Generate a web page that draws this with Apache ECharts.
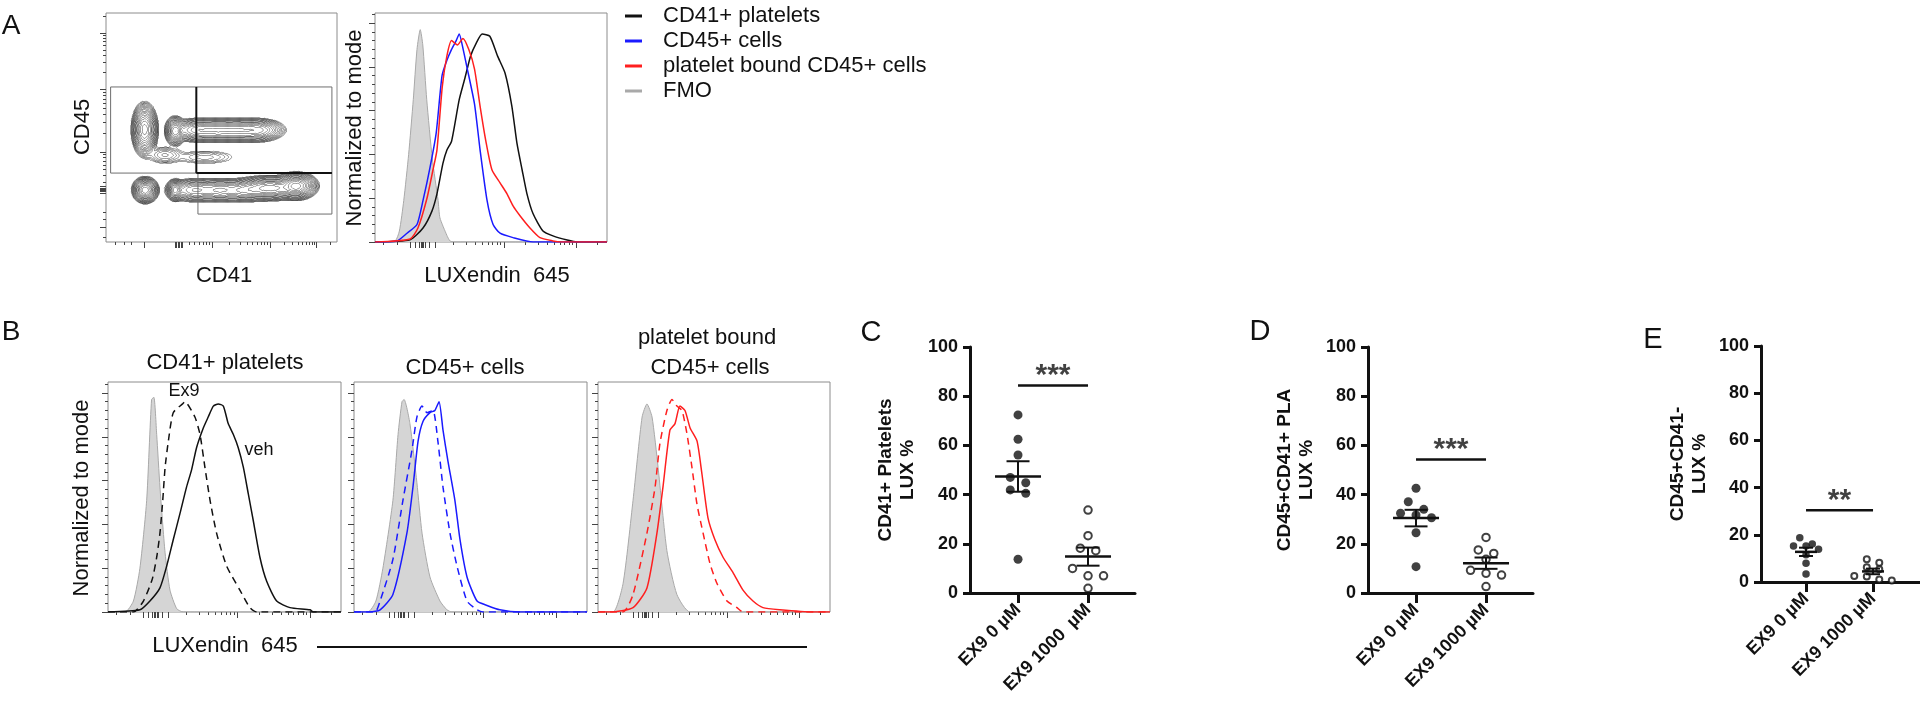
<!DOCTYPE html>
<html><head><meta charset="utf-8">
<script src="https://cdn.jsdelivr.net/npm/echarts@6/dist/echarts.min.js"></script>
<style>html,body{margin:0;padding:0;background:#fff}#c{width:1920px;height:704px}</style>
</head><body><div id="c"></div>
<script>
// ---------------- DATA ----------------
// Panel A contour plot: cell populations [CD41 centre, CD45 centre, spread CD41, spread CD45, relative density] (axis units 0-1000)
const contourPops = [
  [167, 491, 17, 35, 0.9], [300, 485, 14, 20, 0.5],
  [399, 489, 43, 17, 0.22], [486, 489, 43, 17, 0.22], [573, 489, 43, 17, 0.22], [656, 489, 40, 17, 0.2],
  [255, 380, 35, 17, 0.015], [428, 371, 65, 15, 0.008],
  [170, 227, 17, 17, 1.0], [300, 227, 12, 15, 0.45],
  [385, 227, 43, 17, 0.18], [494, 227, 43, 17, 0.18], [603, 227, 43, 17, 0.18],
  [711, 236, 52, 17, 0.45], [824, 245, 28, 18, 0.9]
];
// gates [x0, y0, x1, y1]
const gatesA = [[20, 301, 978, 677], [398, 122, 978, 301]];
const quadGateA = [[391, 301, 391, 677], [391, 301, 978, 301]];

// Panel A histograms [LUXendin channel, % of mode]
const histA_CD41 = [[0,0],[151,1],[207,6.4],[245,14],[267,22],[293,36],[310,42],[330,46],[363,65],[388,75],[412,85],[437,91],[462,95],[495,94],[528,85],[561,77],[590,62],[612,45],[634,33],[655,22],[681,13],[724,5],[767,2.8],[828,0.9],[871,0],[1000,0]];
const histA_CD45 = [[0,0],[95,0.5],[138,4],[181,8],[207,19],[237,34],[264,50],[289,76],[310,83],[330,88],[350,92],[363,95],[380,88],[396,80],[429,63],[453,42],[483,19],[509,8],[539,4],[595,2],[681,0],[1000,0]];
const histA_PLA = [[0,0],[151,1.4],[185,6.4],[224,20],[250,33],[267,42],[290,71],[310,85],[330,92],[355,90],[379,93],[404,88],[429,79],[453,62],[478,46],[504,33],[539,27],[569,22],[595,16.5],[625,12],[668,6.4],[711,2],[767,0.5],[800,0],[1000,0]];
const histA_FMO = [[0,0],[86,0.5],[105,5],[124,19],[145,40],[165,65],[181,88],[195,97],[206,90],[223,65],[247,38],[272,19],[280,11],[310,3],[323,0.5],[340,0],[1000,0]];

// Panel B histograms
const histB1_FMO = [[0,0],[73,0],[109,5],[137,20],[166,51],[187,97],[197,98],[209,81],[223,57],[245,27],[266,10],[295,1.5],[323,0],[1000,0]];
const histB1_Ex9 = [[0,0],[109,0],[152,5],[190,15],[209,25],[223,36],[235,51],[245,66],[259,78],[280,91],[320,95],[330,96],[373,89],[395,81],[416,66],[438,51],[466,36],[509,21],[566,10],[609,2],[638,0],[1000,0]];
const histB1_veh = [[0,0],[137,1],[180,5],[223,11],[252,21],[280,33],[309,45],[337,57],[359,65],[380,75],[409,84],[430,89],[452,94],[473,95],[495,94],[516,86],[538,81],[559,75],[581,66],[602,54],[623,42],[652,25],[681,14],[724,5],[781,2],[867,1],[881,0],[1000,0]];
const histB2_FMO = [[0,0],[60,0],[94,5],[124,20],[167,51],[189,81],[206,96],[215,97],[240,86],[270,59],[292,36],[326,16],[369,5],[399,1],[420,0],[1000,0]];
const histB2_Ex9 = [[0,0],[90,0],[112,5],[167,24],[210,51],[249,74],[270,89],[292,94],[313,91],[339,92],[360,78],[382,57],[412,36],[442,21],[485,5],[528,1],[553,0],[1000,0]];
const histB2_veh = [[0,0],[69,0],[112,1],[167,8],[227,36],[253,57],[275,78],[296,87],[326,91],[347,92],[365,96],[382,83],[403,69],[433,51],[455,33],[485,16],[528,5],[571,3],[626,1],[712,0],[1000,0]];
const histB3_FMO = [[0,0],[65,0],[108,13],[151,51],[190,89],[211,95],[233,89],[259,66],[297,28],[340,8],[397,0],[1000,0]];
const histB3_Ex9 = [[0,0],[108,0],[151,8],[211,36],[246,57],[267,77],[297,92],[319,97],[340,94],[362,92],[384,81],[405,66],[427,49],[453,36],[483,22],[513,13],[556,5],[599,2],[625,0],[1000,0]];
const histB3_veh = [[0,0],[52,0],[151,2],[211,11],[254,36],[280,57],[310,83],[332,86],[353,94],[375,92],[397,84],[427,78],[448,63],[474,43],[504,33],[539,25],[582,18],[625,10],[668,5],[711,2],[784,1],[927,0],[1000,0]];

// Flow axis tick values
const histMajorX = [555, 866];
const histZeroX = [150, 172, 190, 198, 204, 210, 216, 232, 258];
const histLowX = [34, 95];
const histDecadesX = [[244, 555], [555, 866], [866, 1177]];
const histMajorY = [0, 20, 40, 60, 80, 100];
const cMajorX = [167, 459, 711, 911];
const cZeroX = [300, 306, 312, 318, 324, 330];
const cLowX = [40, 80, 110];
const cDecadesX = [[207, 459], [459, 711], [711, 911], [911, 1111]];
const cMajorY = [66, 393, 668, 913];
const cZeroY = [212, 220, 225, 230, 236, 244];
const cLowY = [20, 100, 130];
const cDecadesY = [[141, 393], [393, 668], [668, 913], [913, 1158]];

// Panels C-E (% LUX positive)
const catsC = ['EX9 0 µM', 'EX9 1000  µM'];
const catsD = ['EX9 0 µM', 'EX9 1000 µM'];
const catsE = ['EX9 0 µM', 'EX9 1000 µM'];
const C_ex9_0 = [72.4, 62.5, 56.1, 47.0, 44.8, 41.9, 40.5, 13.7];
const C_ex9_1000 = [33.7, 23.3, 18.2, 17.2, 10.0, 7.0, 7.0, 1.9];
const D_ex9_0 = [42.6, 37.1, 34.0, 32.4, 31.7, 30.6, 24.5, 10.7];
const D_ex9_1000 = [22.6, 17.5, 16.1, 13.7, 9.2, 8.0, 7.3, 2.6];
const E_ex9_0 = [18.8, 16.1, 15.3, 15.3, 13.9, 11.5, 7.9, 3.4];
const E_ex9_1000 = [9.6, 8.2, 6.2, 5.4, 2.5, 2.3, 1.1, 0.6];
const sigC = ['***', 84.3], sigD = ['***', 54.3], sigE = ['**', 30.4];

// ---------------- BUILD ----------------
const FONT = '"Liberation Sans", Arial, Helvetica, sans-serif';
const grid = [], xAxis = [], yAxis = [], series = [];

function logMinors(decades, lo) {
  const out = [];
  decades.forEach(([a, b]) => { for (let k = 2; k < 10; k++) { const v = a + (b - a) * Math.log10(k); if (v > lo && v < 1000) out.push(v); } });
  return out;
}
function range(a, b, s) { const o = []; for (let v = a; v <= b + 1e-9; v += s) o.push(+v.toFixed(3)); return o; }

function flowGrid(rect, ymax, xMaj, xMin, yMaj, yMin) {
  const g = grid.length;
  grid.push(Object.assign({ show: true, borderColor: '#8c8c8c', borderWidth: 1, backgroundColor: 'transparent' }, rect));
  const tick = (vals, len) => ({ show: true, customValues: vals, length: len, lineStyle: { color: '#444', width: 1 } });
  const base = { gridIndex: g, type: 'value', axisLine: { show: false, onZero: false }, splitLine: { show: false }, axisLabel: { show: false } };
  const xi = xAxis.length;
  xAxis.push(Object.assign({}, base, { min: 0, max: 1000, position: 'bottom', axisTick: tick(xMaj, 6) }));
  xAxis.push(Object.assign({}, base, { min: 0, max: 1000, position: 'bottom', axisTick: tick(xMin, 3) }));
  yAxis.push(Object.assign({}, base, { min: 0, max: ymax, position: 'left', axisTick: tick(yMaj, 6) }));
  yAxis.push(Object.assign({}, base, { min: 0, max: ymax, position: 'left', axisTick: tick(yMin, 3) }));
  return xi;
}

// Contour grid (0)
const cAx = flowGrid({ left: 106, top: 13, width: 231, height: 229 }, 1000,
  cMajorX.concat(cZeroX), logMinors(cDecadesX, 340).concat(cLowX),
  cMajorY.concat(cZeroY), logMinors(cDecadesY, 260).concat(cLowY));
// Histogram grids
const histMinX = logMinors(histDecadesX, 262).concat(histLowX);
const histMinY = range(4, 104, 4).filter(v => v % 20 !== 0);
const aAx = flowGrid({ left: 375, top: 13, width: 232, height: 229 }, 104.6, histMajorX.concat(histZeroX), histMinX, histMajorY, histMinY);
const b1Ax = flowGrid({ left: 108, top: 382, width: 233, height: 230 }, 105, histMajorX.concat(histZeroX), histMinX, histMajorY, histMinY);
const b2Ax = flowGrid({ left: 354, top: 382, width: 233, height: 230 }, 105, histMajorX.concat(histZeroX), histMinX, histMajorY, histMinY);
const b3Ax = flowGrid({ left: 598, top: 382, width: 232, height: 230 }, 105, histMajorX.concat(histZeroX), histMinX, histMajorY, histMinY);

// ---- contour computation (marching squares on density of populations)
(function () {
  const step = 4, n = Math.round(1000 / step) + 1;
  const f = new Float64Array(n * n);
  let fmax = 0;
  for (let j = 0; j < n; j++) for (let i = 0; i < n; i++) {
    const x = i * step, y = j * step; let s = 0;
    for (const p of contourPops) { const dx = (x - p[0]) / p[2], dy = (y - p[1]) / p[3]; s += p[4] * Math.exp(-0.5 * (dx * dx + dy * dy)); }
    f[j * n + i] = s; if (s > fmax) fmax = s;
  }
  const segs = [];
  for (let k = 0.3; k <= 6.6; k += 0.36) {
    const L = fmax * Math.exp(-k);
    for (let j = 0; j < n - 1; j++) for (let i = 0; i < n - 1; i++) {
      const a = f[j * n + i], b = f[j * n + i + 1], c = f[(j + 1) * n + i + 1], d = f[(j + 1) * n + i];
      const idx = (a > L ? 1 : 0) | (b > L ? 2 : 0) | (c > L ? 4 : 0) | (d > L ? 8 : 0);
      if (idx === 0 || idx === 15) continue;
      const x = i * step, y = j * step;
      const e0 = () => [x + step * (L - a) / (b - a), y];
      const e1 = () => [x + step, y + step * (L - b) / (c - b)];
      const e2 = () => [x + step * (L - d) / (c - d), y + step];
      const e3 = () => [x, y + step * (L - a) / (d - a)];
      const add = (p, q) => segs.push({ coords: [p, q] });
      switch (idx) {
        case 1: case 14: add(e3(), e0()); break;
        case 2: case 13: add(e0(), e1()); break;
        case 3: case 12: add(e3(), e1()); break;
        case 4: case 11: add(e1(), e2()); break;
        case 6: case 9: add(e0(), e2()); break;
        case 7: case 8: add(e3(), e2()); break;
        case 5: add(e3(), e0()); add(e1(), e2()); break;
        case 10: add(e0(), e1()); add(e2(), e3()); break;
      }
    }
  }
  series.push({ type: 'lines', coordinateSystem: 'cartesian2d', xAxisIndex: cAx, yAxisIndex: cAx, data: segs, silent: true,
    lineStyle: { color: '#333', width: 0.7, opacity: 0.75 }, z: 2, animation: false });
})();

series.push({ type: 'custom', xAxisIndex: cAx, yAxisIndex: cAx, data: gatesA, silent: true, z: 5,
  encode: { x: [0, 2], y: [1, 3] },
  renderItem: (p, api) => { const a = api.coord([api.value(0), api.value(1)]), b = api.coord([api.value(2), api.value(3)]);
    return { type: 'rect', shape: { x: Math.min(a[0], b[0]), y: Math.min(a[1], b[1]), width: Math.abs(b[0] - a[0]), height: Math.abs(b[1] - a[1]) }, style: { fill: 'none', stroke: '#6e6e6e', lineWidth: 1 } }; } });
series.push({ type: 'custom', xAxisIndex: cAx, yAxisIndex: cAx, data: quadGateA, silent: true, z: 6,
  encode: { x: [0, 2], y: [1, 3] },
  renderItem: (p, api) => { const a = api.coord([api.value(0), api.value(1)]), b = api.coord([api.value(2), api.value(3)]);
    return { type: 'line', shape: { x1: a[0], y1: a[1], x2: b[0], y2: b[1] }, style: { stroke: '#111', lineWidth: 2 } }; } });

// ---- histograms
function hist(ax, name, data, color, opts = {}) {
  const s = { type: 'line', name, xAxisIndex: ax, yAxisIndex: ax, data, showSymbol: false, symbol: 'none', smooth: 0.2, silent: true,
    lineStyle: { color, width: opts.width || 1.5, type: opts.dash ? [7, 5] : 'solid' }, itemStyle: { color }, z: opts.z || 3 };
  if (opts.fill) s.areaStyle = { color: opts.fill, opacity: 1 };
  series.push(s);
}
const GRAYL = '#a9a9a9', GRAYF = '#d5d5d5', BLUE = '#1a1aff', RED = '#ff1f1f', BLK = '#111111';
hist(aAx, 'FMO', histA_FMO, GRAYL, { fill: GRAYF, width: 1, z: 2 });
hist(aAx, 'CD41+ platelets', histA_CD41, BLK);
hist(aAx, 'CD45+ cells', histA_CD45, BLUE);
hist(aAx, 'platelet bound CD45+ cells', histA_PLA, RED);
hist(b1Ax, 'B1 FMO', histB1_FMO, GRAYL, { fill: GRAYF, width: 1, z: 2 });
hist(b1Ax, 'B1 Ex9', histB1_Ex9, BLK, { dash: true });
hist(b1Ax, 'B1 veh', histB1_veh, BLK);
hist(b2Ax, 'B2 FMO', histB2_FMO, GRAYL, { fill: GRAYF, width: 1, z: 2 });
hist(b2Ax, 'B2 Ex9', histB2_Ex9, BLUE, { dash: true });
hist(b2Ax, 'B2 veh', histB2_veh, BLUE);
hist(b3Ax, 'B3 FMO', histB3_FMO, GRAYL, { fill: GRAYF, width: 1, z: 2 });
hist(b3Ax, 'B3 Ex9', histB3_Ex9, RED, { dash: true });
hist(b3Ax, 'B3 veh', histB3_veh, RED);

// ---- dot plots
function swarm(vals, pxPerUnit, diam, spacing) {
  const idx = vals.map((v, i) => i).sort((a, b) => vals[b] - vals[a]);
  const off = new Array(vals.length).fill(0); let row = [];
  const flush = () => { row.forEach((k, j) => { off[k] = (j - (row.length - 1) / 2) * spacing; }); row = []; };
  idx.forEach(k => { if (row.length && (vals[row[0]] - vals[k]) * pxPerUnit >= diam) flush(); row.push(k); });
  flush(); return off;
}
function meanSem(v) { const m = v.reduce((a, b) => a + b, 0) / v.length; const sd = Math.sqrt(v.reduce((a, b) => a + (b - m) * (b - m), 0) / (v.length - 1)); return [m, sd / Math.sqrt(v.length)]; }

function dotPanel(rect, xr, cats, ctrl, trt, sig, yName, nameGap, o) {
  const g = grid.length; grid.push(rect);
  const ai = xAxis.length;
  const lab = { fontFamily: FONT, fontSize: 18, fontWeight: 'bold', color: '#111' };
  xAxis.push({ gridIndex: g, type: 'value', min: xr[0], max: xr[1], splitLine: { show: false },
    axisLine: { show: true, onZero: false, lineStyle: { color: '#111', width: 3 } },
    axisTick: { show: true, customValues: [0, 1], length: 10, lineStyle: { color: '#111', width: 3 } },
    axisLabel: Object.assign({ show: true, customValues: [0, 1], formatter: v => cats[Math.round(v)], rotate: 45, margin: 14 }, lab) });
  yAxis.push({ gridIndex: g, type: 'value', min: 0, max: 100, interval: 20, splitLine: { show: false },
    axisLine: { show: true, onZero: false, lineStyle: { color: '#111', width: 3 } },
    axisTick: { show: true, length: 7, lineStyle: { color: '#111', width: 3 } },
    axisLabel: Object.assign({ margin: 12 }, lab),
    name: yName, nameLocation: 'middle', nameGap, nameTextStyle: { fontFamily: FONT, fontSize: o.nameSize, fontWeight: 'bold', color: '#111', lineHeight: o.nameSize + 3 } });
  const offC = swarm(ctrl, o.ppu, o.diam, o.sp), offT = swarm(trt, o.ppu, o.diam, o.sp);
  series.push({ type: 'scatter', xAxisIndex: ai, yAxisIndex: ai, symbol: 'circle', symbolSize: o.diam, silent: true, z: 3,
    itemStyle: { color: '#111' }, data: ctrl.map((v, i) => ({ value: [0, v], symbolOffset: [offC[i], 0] })) });
  series.push({ type: 'scatter', xAxisIndex: ai, yAxisIndex: ai, symbol: 'circle', symbolSize: o.diam - 1.5, silent: true, z: 3,
    itemStyle: { color: '#fff', borderColor: '#111', borderWidth: 2 }, data: trt.map((v, i) => ({ value: [1, v], symbolOffset: [offT[i], 0] })) });
  const ms = [[0].concat(meanSem(ctrl)), [1].concat(meanSem(trt))];
  series.push({ type: 'custom', xAxisIndex: ai, yAxisIndex: ai, data: ms, silent: true, z: 4, encode: { x: 0, y: 1 },
    renderItem: (p, api) => {
      const gx = api.value(0), m = api.value(1), s = api.value(2);
      const pm = api.coord([gx, m]), pu = api.coord([gx, m + s]), pl = api.coord([gx, m - s]);
      const st = { stroke: '#111', lineWidth: 2 };
      return { type: 'group', children: [
        { type: 'line', shape: { x1: pm[0] - o.mw, y1: pm[1], x2: pm[0] + o.mw, y2: pm[1] }, style: { stroke: '#111', lineWidth: 2.5 } },
        { type: 'line', shape: { x1: pu[0], y1: pu[1], x2: pl[0], y2: pl[1] }, style: st },
        { type: 'line', shape: { x1: pu[0] - o.cw, y1: pu[1], x2: pu[0] + o.cw, y2: pu[1] }, style: st },
        { type: 'line', shape: { x1: pl[0] - o.cw, y1: pl[1], x2: pl[0] + o.cw, y2: pl[1] }, style: st }] };
    } });
  series.push({ type: 'line', xAxisIndex: ai, yAxisIndex: ai, data: [[0, sig[1]], [1, sig[1]]], symbol: 'none', silent: true,
    lineStyle: { color: '#111', width: 2.5 }, z: 4 });
  series.push({ type: 'scatter', xAxisIndex: ai, yAxisIndex: ai, data: [[0.5, sig[1]]], symbolSize: 1, silent: true,
    itemStyle: { color: 'rgba(0,0,0,0)' }, z: 4,
    label: { show: true, formatter: sig[0], position: 'inside', offset: [0, -10], fontFamily: FONT, fontSize: 30, fontWeight: 'bold', color: '#111' } });
}
const optCD = { ppu: 2.46, diam: 9, sp: 15.5, mw: 23, cw: 11.5, nameSize: 19 };
dotPanel({ left: 970, top: 347, width: 165, height: 246 }, [-0.686, 1.671], catsC, C_ex9_0, C_ex9_1000, sigC, 'CD41+ Platelets\nLUX %', 51, optCD);
dotPanel({ left: 1368, top: 347, width: 165, height: 246 }, [-0.686, 1.671], catsD, D_ex9_0, D_ex9_1000, sigD, 'CD45+CD41+ PLA\nLUX %', 50, optCD);
dotPanel({ left: 1761, top: 346, width: 159, height: 236 }, [-0.672, 1.701], catsE, E_ex9_0, E_ex9_1000, sigE, 'CD45+CD41-\nLUX %', 50,
  { ppu: 2.36, diam: 7.5, sp: 12.5, mw: 11, cw: 7, nameSize: 19 });

// ---- free texts
function T(text, x, y, size, rot, weight) {
  return { type: 'text', x, y, rotation: rot || 0, silent: true, z: 100,
    style: { text, font: (weight || 'normal') + ' ' + size + 'px ' + FONT, fill: '#111', textAlign: 'center', textVerticalAlign: 'middle', align: 'center', verticalAlign: 'middle' } };
}
const R = Math.PI / 2;
const graphic = [
  T('A', 11, 26, 28), T('B', 11, 332, 28), T('C', 871, 333, 29), T('D', 1260, 332, 29), T('E', 1653, 340, 29),
  T('CD45', 83, 127, 22, R), T('CD41', 224, 276, 22),
  T('Normalized to mode', 355, 128, 22, R), T('LUXendin  645', 497, 276, 22),
  T('Normalized to mode', 82, 498, 22, R), T('LUXendin  645', 225, 646, 22),
  T('CD41+ platelets', 225, 363, 22), T('CD45+ cells', 465, 368, 22),
  T('platelet bound', 707, 338, 22), T('CD45+ cells', 710, 368, 22),
  T('Ex9', 184, 391, 18), T('veh', 259, 450, 18),
  { type: 'line', silent: true, shape: { x1: 317, y1: 647, x2: 807, y2: 647 }, style: { stroke: '#111', lineWidth: 2 } }
];

const chart = echarts.init(document.getElementById('c'), null, { renderer: 'canvas' });
chart.setOption({
  animation: false,
  backgroundColor: '#fff',
  textStyle: { fontFamily: FONT },
  grid, xAxis, yAxis, series, graphic,
  legend: { show: true, orient: 'vertical', left: 620, top: 0, itemWidth: 17, itemHeight: 3, itemGap: 3, icon: 'rect', selectedMode: false,
    data: ['CD41+ platelets', 'CD45+ cells', 'platelet bound CD45+ cells', 'FMO'],
    textStyle: { fontFamily: FONT, fontSize: 22, color: '#111', lineHeight: 22, padding: [0, 0, 0, 16] } }
});
</script></body></html>
